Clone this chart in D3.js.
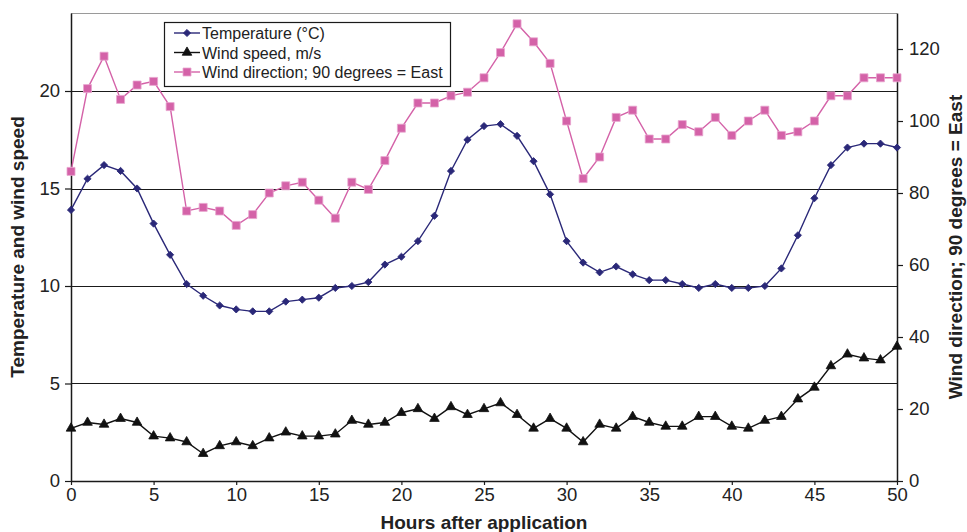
<!DOCTYPE html>
<html>
<head>
<meta charset="utf-8">
<script src="https://cdn.jsdelivr.net/npm/d3@7"></script>
<style>
  body { margin: 0; background: #fff; }
  svg { display: block; font-family: "Liberation Sans", Arial, sans-serif; }
</style>
</head>
<body>
<div id="chart"></div>
<script>
// hours after application, 0..50
const hours = d3.range(0, 51);

const temperature = [
  13.9, 15.5, 16.2, 15.9, 15.0, 13.2, 11.6, 10.1, 9.5, 9.0,
  8.8, 8.7, 8.7, 9.2, 9.3, 9.4, 9.9, 10.0, 10.2, 11.1,
  11.5, 12.3, 13.6, 15.9, 17.5, 18.2, 18.3, 17.7, 16.4, 14.7,
  12.3, 11.2, 10.7, 11.0, 10.6, 10.3, 10.3, 10.1, 9.9, 10.1,
  9.9, 9.9, 10.0, 10.9, 12.6, 14.5, 16.2, 17.1, 17.3, 17.3,
  17.1
];

const windSpeed = [
  2.7, 3.0, 2.9, 3.2, 3.0, 2.3, 2.2, 2.0, 1.4, 1.8,
  2.0, 1.8, 2.2, 2.5, 2.3, 2.3, 2.4, 3.1, 2.9, 3.0,
  3.5, 3.7, 3.2, 3.8, 3.4, 3.7, 4.0, 3.4, 2.7, 3.2,
  2.7, 2.0, 2.9, 2.7, 3.3, 3.0, 2.8, 2.8, 3.3, 3.3,
  2.8, 2.7, 3.1, 3.3, 4.2, 4.8, 5.9, 6.5, 6.3, 6.2,
  6.9
];

const windDirection = [
  86, 109, 118, 106, 110, 111, 104, 75, 76, 75,
  71, 74, 80, 82, 83, 78, 73, 83, 81, 89,
  98, 105, 105, 107, 108, 112, 119, 127, 122, 116,
  100, 84, 90, 101, 103, 95, 95, 99, 97, 101,
  96, 100, 103, 96, 97, 100, 107, 107, 112, 112,
  112
];

const xTicks = d3.range(0, 51, 5);
const leftTicks = [0, 5, 10, 15, 20];
const rightTicks = [0, 20, 40, 60, 80, 100, 120];

const seriesNames = [
  "Temperature (\u00B0C)",
  "Wind speed, m/s",
  "Wind direction; 90 degrees = East",
];

const width = 967;
const height = 532;
const margin = { top: 13, right: 70, bottom: 51, left: 71 };

const svg = d3.select("#chart").append("svg")
  .attr("width", width)
  .attr("height", height);

const x = d3.scaleLinear().domain([0, 50]).range([margin.left, width - margin.right]);
const yL = d3.scaleLinear().domain([0, 24]).range([height - margin.bottom, margin.top]);
const yR = d3.scaleLinear().domain([0, 130]).range([height - margin.bottom, margin.top]);

const fontSize = 18.5;
const titleSize = 19;

// gridlines
svg.append("g")
  .selectAll("line")
  .data(leftTicks.filter((d) => d > 0))
  .join("line")
  .attr("x1", x(0))
  .attr("x2", x(50))
  .attr("y1", (d) => Math.round(yL(d)) + 0.5)
  .attr("y2", (d) => Math.round(yL(d)) + 0.5)
  .attr("stroke", "#1a1a1a")
  .attr("stroke-width", 1.2);

// top border
svg.append("line")
  .attr("x1", x(0)).attr("x2", x(50))
  .attr("y1", margin.top + 0.5).attr("y2", margin.top + 0.5)
  .attr("stroke", "#9a9a9a")
  .attr("stroke-width", 1.2);

const styleAxis = (g) => {
  g.select(".domain").attr("stroke", "#1a1a1a").attr("stroke-width", 1.5);
  g.selectAll(".tick line").attr("stroke", "#1a1a1a").attr("stroke-width", 1.2);
  g.selectAll(".tick text")
    .attr("fill", "#222")
    .attr("font-size", fontSize)
    .attr("font-family", "Liberation Sans, Arial, sans-serif");
};

svg.append("g")
  .attr("transform", `translate(0,${yL(0)})`)
  .call(d3.axisBottom(x).tickValues(xTicks).tickSize(4).tickPadding(3).tickSizeOuter(0))
  .call(styleAxis);

svg.append("g")
  .attr("transform", `translate(${x(0)},0)`)
  .call(d3.axisLeft(yL).tickValues(leftTicks).tickSize(6).tickPadding(5).tickSizeOuter(0))
  .call(styleAxis);

svg.append("g")
  .attr("transform", `translate(${x(50)},0)`)
  .call(d3.axisRight(yR).tickValues(rightTicks).tickSize(6).tickPadding(6).tickSizeOuter(0))
  .call(styleAxis);

// axis titles
svg.append("text")
  .attr("x", (x(0) + x(50)) / 2)
  .attr("y", 529)
  .attr("text-anchor", "middle")
  .attr("font-size", titleSize)
  .attr("font-weight", "bold")
  .attr("fill", "#222")
  .text("Hours after application");

svg.append("text")
  .attr("transform", `translate(24,${(yL(0) + yL(24)) / 2}) rotate(-90)`)
  .attr("text-anchor", "middle")
  .attr("font-size", titleSize)
  .attr("font-weight", "bold")
  .attr("fill", "#222")
  .text("Temperature and wind speed");

svg.append("text")
  .attr("transform", `translate(962,${(yL(0) + yL(24)) / 2}) rotate(-90)`)
  .attr("text-anchor", "middle")
  .attr("font-size", titleSize)
  .attr("font-weight", "bold")
  .attr("fill", "#222")
  .text("Wind direction; 90 degrees = East");

const series = [
  { name: seriesNames[0], values: temperature, scale: yL, color: "#2a2878", symbol: d3.symbolSquare, size: 26, rotate: 45, fill: "#2a2878", stroke: "#2a2878" },
  { name: seriesNames[1], values: windSpeed, scale: yL, color: "#111", symbol: d3.symbolTriangle, size: 40, rotate: 0, fill: "#111", stroke: "#111" },
  { name: seriesNames[2], values: windDirection, scale: yR, color: "#d462a8", symbol: d3.symbolSquare, size: 64, rotate: 0, fill: "#d462a8", stroke: "#e8a6cf" },
];

// draw pink first, then temperature, then wind speed on top
[series[2], series[0], series[1]].forEach((s) => {
  const pts = hours.map((h, i) => [h, s.values[i]]);
  const line = d3.line().x((d) => x(d[0])).y((d) => s.scale(d[1]));
  const g = svg.append("g");
  g.append("path")
    .attr("d", line(pts))
    .attr("fill", "none")
    .attr("stroke", s.color)
    .attr("stroke-width", 1.4);
  g.selectAll("path.m")
    .data(pts)
    .join("path")
    .attr("class", "m")
    .attr("d", d3.symbol().type(s.symbol).size(s.size))
    .attr("transform", (d) => `translate(${x(d[0])},${s.scale(d[1])}) rotate(${s.rotate})`)
    .attr("fill", s.fill)
    .attr("stroke", s.stroke)
    .attr("stroke-width", 0.8);
});

// legend
const legend = svg.append("g").attr("transform", "translate(164,22)");
legend.append("rect")
  .attr("x", 0.5).attr("y", 0.5)
  .attr("width", 286).attr("height", 64)
  .attr("fill", "#fff")
  .attr("stroke", "#1a1a1a")
  .attr("stroke-width", 1.2);

series.forEach((s, i) => {
  const ly = 11 + i * 19.5;
  legend.append("line")
    .attr("x1", 10).attr("x2", 36)
    .attr("y1", ly).attr("y2", ly)
    .attr("stroke", s.color)
    .attr("stroke-width", 1.4);
  legend.append("path")
    .attr("d", d3.symbol().type(s.symbol).size(s.size)())
    .attr("transform", `translate(23,${ly}) rotate(${s.rotate})`)
    .attr("fill", s.fill)
    .attr("stroke", s.stroke)
    .attr("stroke-width", 0.8);
  legend.append("text")
    .attr("x", 38)
    .attr("y", ly + 6)
    .attr("font-size", 16)
    .attr("fill", "#222")
    .text(s.name);
});
</script>
</body>
</html>
